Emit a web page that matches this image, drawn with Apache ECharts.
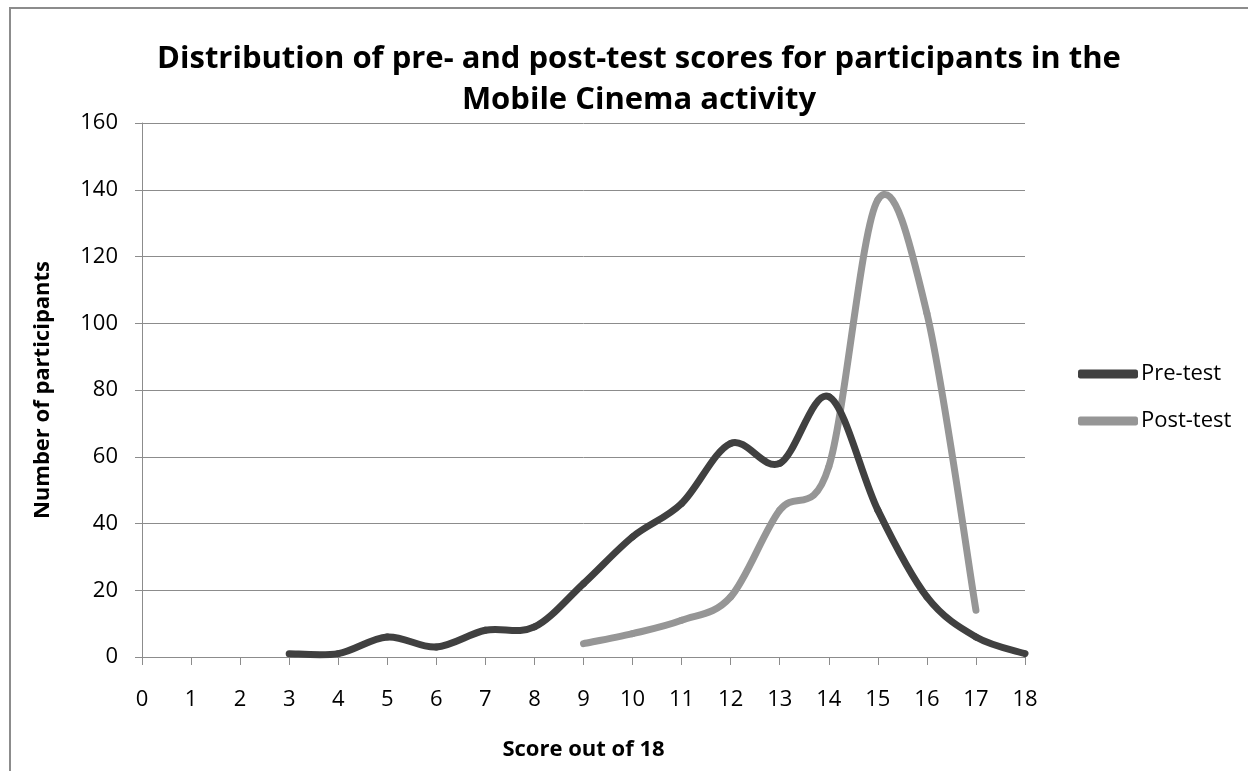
<!DOCTYPE html>
<html>
<head>
<meta charset="utf-8">
<script src="https://cdn.jsdelivr.net/npm/echarts@6/dist/echarts.min.js"></script>
<style>html,body{margin:0;padding:0;background:#fff}#c{width:1248px;height:771px}</style>
</head>
<body>
<div id="c"></div>
<script>
const categories = ['0','1','2','3','4','5','6','7','8','9','10','11','12','13','14','15','16','17','18'];
const preTest  = [null,null,null,1,1,6,3,8,9,22,36,46,64,58,78,44,18,6,1];
const postTest = [null,null,null,null,null,null,null,null,null,4,7,11,18,44,57,137,103,14,null];
const yTicks = {min:0, max:160, interval:20};

function toPairs(arr){
  const out = [];
  arr.forEach((v,i)=>{ if(v!==null) out.push([i, v]); });
  return out;
}

// Excel-style smoothed line (Catmull-Rom Bezier), positioned through the axes via api.coord
function smoothRenderer(pairs, color){
  return function(params, api){
    const i = params.dataIndex;
    if (i >= pairs.length - 1) return null;
    const P = pairs.map(p => api.coord(p));
    const p0 = P[Math.max(i-1,0)], p1 = P[i], p2 = P[i+1], p3 = P[Math.min(i+2, P.length-1)];
    return {
      type:'bezierCurve',
      shape:{
        x1:p1[0], y1:p1[1],
        cpx1:p1[0] + (p2[0]-p0[0])/6, cpy1:p1[1] + (p2[1]-p0[1])/6,
        cpx2:p2[0] - (p3[0]-p1[0])/6, cpy2:p2[1] - (p3[1]-p1[1])/6,
        x2:p2[0], y2:p2[1]
      },
      style:{stroke:color, lineWidth:7, fill:null, lineCap:'round', lineJoin:'round'}
    };
  };
}

const preColor = '#404040', postColor = '#969696';
const prePairs = toPairs(preTest), postPairs = toPairs(postTest);

const chart = echarts.init(document.getElementById('c'));
const FONT = '"Open Sans", "Noto Sans", sans-serif';
chart.setOption({
  animation:false,
  backgroundColor:'#fff',
  graphic:[{type:'rect', shape:{x:10,y:8,width:1260,height:780}, style:{fill:'none', stroke:'#8c8c8c', lineWidth:2}, silent:true}],
  title:{
    text:'Distribution of pre- and post-test scores for participants in the\nMobile Cinema activity',
    left:634, top:34, textAlign:'center',
    textStyle:{fontFamily:FONT, fontWeight:'bold', fontSize:31, lineHeight:41, color:'#000'}
  },
  legend:{
    orient:'vertical', left:1073, top:358, itemGap:25, itemWidth:60, itemHeight:9,
    icon:'roundRect',
    textStyle:{fontFamily:FONT, fontSize:22, color:'#000', padding:[0,0,0,-2]},
    data:['Pre-test','Post-test']
  },
  grid:{left:142, right:223, top:123, bottom:114},
  xAxis:{
    type:'category', data:categories, boundaryGap:false,
    name:'Score out of 18', nameLocation:'middle', nameGap:82,
    nameTextStyle:{fontFamily:FONT, fontWeight:'bold', fontSize:22, color:'#000'},
    axisLine:{lineStyle:{color:'#8c8c8c', width:1}},
    axisTick:{show:true, interval:0, length:8, lineStyle:{color:'#8c8c8c'}},
    axisLabel:{interval:0, fontFamily:FONT, fontSize:22, color:'#000', margin:32},
    splitLine:{show:false}
  },
  yAxis:{
    type:'value', min:yTicks.min, max:yTicks.max, interval:yTicks.interval,
    name:'Number of participants', nameLocation:'middle', nameGap:88, nameRotate:90,
    nameTextStyle:{fontFamily:FONT, fontWeight:'bold', fontSize:22, color:'#000'},
    axisLine:{show:true, lineStyle:{color:'#8c8c8c', width:1}},
    axisTick:{show:true, length:7, lineStyle:{color:'#8c8c8c'}},
    axisLabel:{fontFamily:FONT, fontSize:22, color:'#000', margin:24},
    splitLine:{lineStyle:{color:'#8c8c8c', width:1}}
  },
  series:[
    {name:'Pre-test', type:'custom', data:prePairs, renderItem:smoothRenderer(prePairs, preColor),
     itemStyle:{color:preColor}, encode:{x:0, y:1}, clip:false, z:3},
    {name:'Post-test', type:'custom', data:postPairs, renderItem:smoothRenderer(postPairs, postColor),
     itemStyle:{color:postColor}, encode:{x:0, y:1}, clip:false, z:2}
  ]
});
</script>
</body>
</html>
